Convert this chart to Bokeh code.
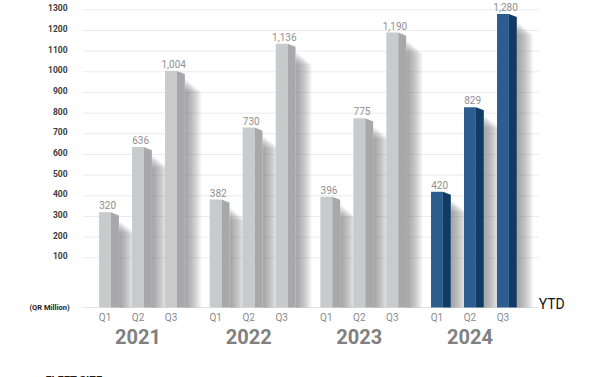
from bokeh.plotting import figure
from bokeh.models import Label, Range1d, ColumnDataSource
from bokeh.core.properties import value
from bokeh.embed import file_html
from bokeh.resources import INLINE

# ---- data ----
years = ["2021", "2022", "2023", "2024"]
quarters = ["Q1", "Q2", "Q3"]
values_2021 = [320, 636, 1004]
values_2022 = [382, 730, 1136]
values_2023 = [396, 775, 1190]
values_2024 = [420, 829, 1280]
value_labels = ["320", "636", "1,004", "382", "730", "1,136",
                "396", "775", "1,190", "420", "829", "1,280"]
y_ticks = [100, 200, 300, 400, 500, 600, 700, 800, 900, 1000, 1100, 1200, 1300]
y_tick_labels = [str(t) for t in y_ticks]

# ---- layout constants ----
PAD = 0.353            # gap between year groups (in bar slots)
BASE = -140.2          # bars rise from this floor line
GRID_X0, GRID_X1 = -0.68, 13.14
FRONT_W = 0.36
SIDE_W = 0.24
BEVEL = 15

grey_front, grey_side = "#c9cacc", "#a7a8ab"
blue_front, blue_side = "#2d5c8e", "#103b64"

all_vals = values_2021 + values_2022 + values_2023 + values_2024
xs, fronts, sides, qlabels = [], [], [], []
for g, vals in enumerate([values_2021, values_2022, values_2023, values_2024]):
    for q in range(len(vals)):
        xs.append(g * (3 + PAD) + q)
        qlabels.append(quarters[q])
        if years[g] == "2024":
            fronts.append(blue_front); sides.append(blue_side)
        else:
            fronts.append(grey_front); sides.append(grey_side)
group_centers = [g * (3 + PAD) + 1 for g in range(len(years))]

W, H = 600, 377
p = figure(width=W, height=H, output_backend="svg", toolbar_location=None,
           x_range=Range1d(-3.167, 15.015), y_range=Range1d(-478.9, 1345),
           min_border=0, x_axis_type=None, y_axis_type=None)
p.outline_line_color = None
p.background_fill_color = "white"
p.border_fill_color = "white"
p.xgrid.grid_line_color = None
p.ygrid.grid_line_color = None

# gridlines and floor line
p.segment(x0=GRID_X0, x1=GRID_X1, y0=y_ticks, y1=y_ticks, line_color="#ebebeb", line_width=1)
p.segment(x0=[GRID_X0], x1=[GRID_X1], y0=[BASE], y1=[BASE], line_color="#e4e4e4", line_width=1)

# y tick labels
p.text(x=[GRID_X0] * len(y_ticks), y=y_ticks, text=y_tick_labels, x_offset=-15, y_offset=-2,
       text_align="right", text_baseline="middle", text_font=value("Roboto"),
       text_font_style="bold", text_font_size="8.5px", text_color="#3c3c3c")

# soft shadows to the right of each bar
for i in range(10):
    sw = 0.08 + 0.045 * i
    sx = [x + FRONT_W / 2 + SIDE_W + sw / 2 for x in xs]
    st = [v - 45 - 6 * i for v in all_vals]
    p.vbar(x=sx, width=sw, top=st, bottom=BASE, fill_color="#777777",
           fill_alpha=0.085, line_color=None)

# front faces
p.vbar(x=xs, width=FRONT_W, top=all_vals, bottom=BASE, fill_color=fronts, line_color=None)

# side faces with bevelled top
side_x, side_y = [], []
for x, v in zip(xs, all_vals):
    x0 = x + FRONT_W / 2
    x1 = x0 + SIDE_W
    side_x.append([x0, x0, x1, x1])
    side_y.append([BASE, v, v - BEVEL, BASE])
p.patches(xs=side_x, ys=side_y, fill_color=sides, line_color=None)

# value labels
src = ColumnDataSource(dict(x=[x + 0.08 for x in xs], y=all_vals, t=value_labels))
p.text(x="x", y="y", text="t", source=src, text_align="center", text_baseline="bottom",
       y_offset=-3, text_font_size="10px", text_color="#909090",
       text_font=value("Roboto"))

# quarter labels
p.text(x=xs, y=[BASE] * len(xs), text=qlabels, y_offset=10, text_align="center",
       text_baseline="middle", text_font=value("Roboto"), text_font_size="10px",
       text_color="#8a8a8a")

# year labels
p.text(x=group_centers, y=[BASE] * len(years), text=years, y_offset=29, text_align="center",
       text_baseline="middle", text_font=value("Roboto"), text_font_style="bold",
       text_font_size="20px", text_color="#808080")

# free texts (screen units, origin bottom-left of the frame = canvas)
p.add_layout(Label(x=29, y=70, x_units="screen", y_units="screen", text="(QR Million)",
                   text_font="Roboto", text_font_style="bold", text_font_size="7.5px",
                   text_color="#222222", text_baseline="middle"))
p.add_layout(Label(x=GRID_X1, y=74, x_units="data", y_units="screen", text="YTD",
                   text_font="Roboto", text_font_size="14px",
                   text_color="#111111", text_baseline="middle"))
p.add_layout(Label(x=45, y=4, x_units="screen", y_units="screen", text="FLEET SIZE",
                   text_font="Roboto", text_font_style="bold", text_font_size="11px",
                   text_color="#1a1a1a", text_baseline="top"))

open("out.html", "w").write(file_html(p, INLINE))
